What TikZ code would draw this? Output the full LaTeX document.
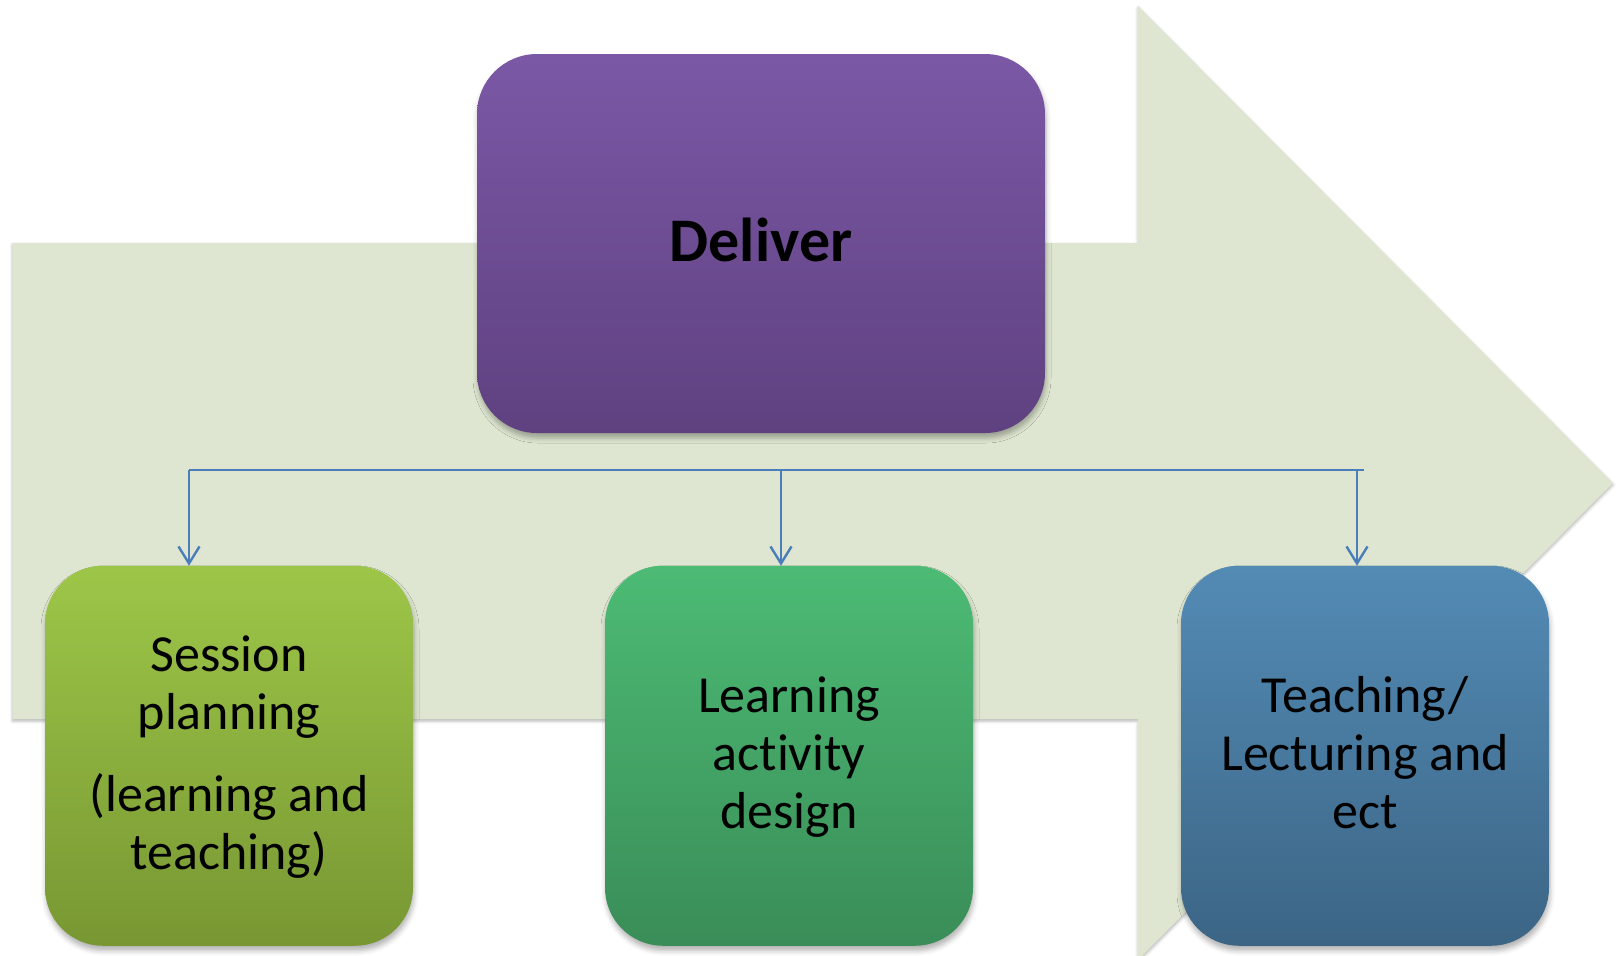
\documentclass[tikz,border=0pt]{standalone}
\usepackage{fontspec}
\setmainfont[Ligatures={NoCommon}]{Carlito}
\usetikzlibrary{arrows.meta,shadows.blur}
\definecolor{arrowfill}{HTML}{DEE6D1}
\definecolor{linkblue}{HTML}{4A7EBB}
\definecolor{dTop}{HTML}{7B58A6}
\definecolor{dBot}{HTML}{5F4180}
\definecolor{aTop}{HTML}{9DC648}
\definecolor{aBot}{HTML}{789733}
\definecolor{bTop}{HTML}{4CBB74}
\definecolor{bBot}{HTML}{3A8D58}
\definecolor{cTop}{HTML}{538BB5}
\definecolor{cBot}{HTML}{3C6585}
\newcommand{\mystrut}{\rule[-0.24em]{0pt}{1.04em}}
\begin{document}
\begin{tikzpicture}[x=0.5pt,y=-0.5pt,
  box/.style={rectangle, rounded corners=29pt, minimum width=184pt, minimum height=190pt,
    inner sep=0pt, outer sep=0pt, align=center, font=\fontsize{26pt}{29pt}\selectfont,
    blur shadow={shadow xshift=0.5pt, shadow yshift=-2.5pt, shadow blur radius=2.5pt, shadow opacity=30}},
  bus/.style={draw=linkblue, line width=1.2pt},
  link/.style={draw=linkblue, line width=1.2pt, -{Straight Barb[length=8.5pt,width=10.5pt]}},
]
\useasboundingbox (0,0) rectangle (1618,955);
\clip (0,0) rectangle (1618,955);
% big background arrow
\fill[arrowfill, blur shadow={shadow xshift=0pt, shadow yshift=-1pt, shadow blur radius=1.5pt, shadow opacity=30}]
  (12.5,243) -- (1138,243) -- (1138,6) -- (1613,483) -- (1138,960) -- (1138,719) -- (12.5,719) -- cycle;
% top box
\node[box, minimum width=284pt, minimum height=189.5pt, rounded corners=30pt,
  top color=dTop, middle color=dTop!70!dBot, bottom color=dBot,
  font=\fontsize{31pt}{36pt}\selectfont\bfseries, text depth=4pt] (deliver) at (761,243.5) {Deliver};
% lower boxes
\node[box, top color=aTop, middle color=aTop!65!aBot, bottom color=aBot] (b1) at (229,755.75)
  {\mystrut Session\\planning\\[12pt](learning and\\teaching)\mystrut};
\node[box, top color=bTop, middle color=bTop!65!bBot, bottom color=bBot] (b2) at (789,755.75)
  {\mystrut Learning\\activity\\design\mystrut};
\node[box, top color=cTop, middle color=cTop!65!cBot, bottom color=cBot] (b3) at (1365,755.75)
  {\mystrut Teaching/\\Lecturing and\\ect\mystrut};
% connectors
\coordinate (busL) at (189,470);
\coordinate (busM) at (781,470);
\coordinate (busR) at (1357,470);
\coordinate (busEnd) at (1364,470);
\draw[bus] (busL) -- (busEnd);
\draw[link] (busL) -- (busL |- b1.north);
\draw[link] (busM) -- (busM |- b2.north);
\draw[link] (busR) -- (busR |- b3.north);
\end{tikzpicture}
\end{document}
